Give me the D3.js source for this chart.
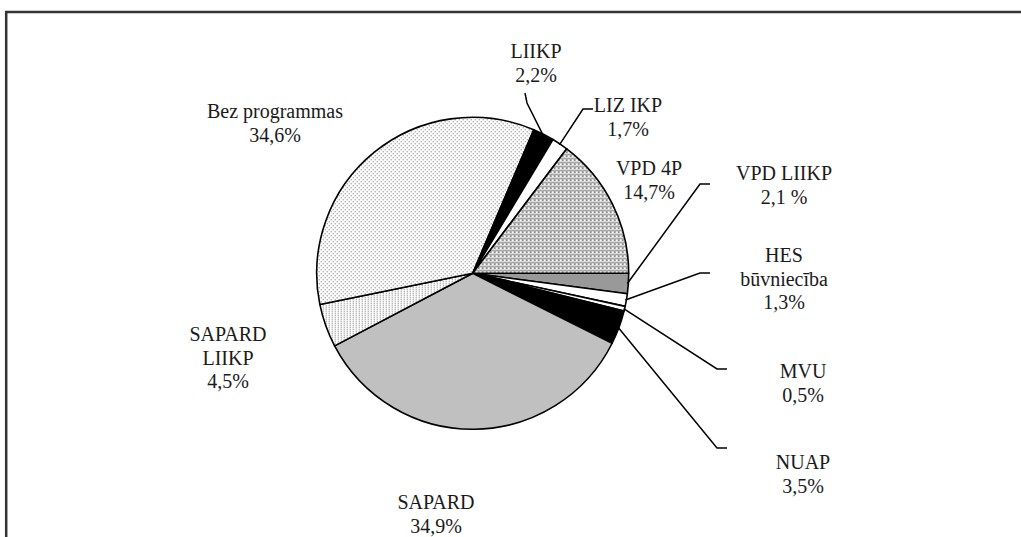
<!DOCTYPE html>
<html>
<head>
<meta charset="utf-8">
<script src="https://cdn.jsdelivr.net/npm/d3@7/dist/d3.min.js"></script>
<style>
  html, body { margin: 0; padding: 0; background: #fff; }
  svg { display: block; }
  text { font-family: "Liberation Serif", "Times New Roman", serif; font-size: 20px; fill: #1a1a1a; }
</style>
</head>
<body>
<svg id="chart" width="1021" height="537"></svg>
<script>
// ---- data (clockwise from 3 o'clock) ----
const categories = ["VPD LIIKP", "HES būvniecība", "MVU", "NUAP", "SAPARD", "SAPARD LIIKP", "Bez programmas", "LIIKP", "LIZ IKP", "VPD 4P"];
const values = [2.1, 1.3, 0.5, 3.5, 34.9, 4.5, 34.6, 2.2, 1.7, 14.7];
const valueLabels = ["2,1 %", "1,3%", "0,5%", "3,5%", "34,9%", "4,5%", "34,6%", "2,2%", "1,7%", "14,7%"];
const nameLines = [["VPD LIIKP"], ["HES", "būvniecība"], ["MVU"], ["NUAP"], ["SAPARD"], ["SAPARD", "LIIKP"], ["Bez programmas"], ["LIIKP"], ["LIZ IKP"], ["VPD 4P"]];

// ---- layout / style ----
const fills = ["#999999", "#ffffff", "#ffffff", "#000000", "#c0c0c0", "url(#pDense)", "url(#pSparse)", "#000000", "#ffffff", "url(#pWave)"];
const labelPos = [
  {x: 784, y: 180}, {x: 784, y: 262}, {x: 803, y: 378}, {x: 803, y: 469},
  {x: 436, y: 509}, {x: 228, y: 341}, {x: 275, y: 118}, {x: 536, y: 58},
  {x: 628, y: 112}, {x: 649, y: 175}
];
const leaderPts = [
  [[710, 184], [700, 184]], [[710, 273], [700, 273]], [[727, 369], [717, 369]], [[727, 448], [717, 448]],
  null, null, null,
  [[525, 93], [527, 103]], [[593, 109], [583, 109]], null
];
const lineH = 23.5;
const cx = 472.7, cy = 273.3, R = 156;

const svg = d3.select("#chart");
const defs = svg.append("defs");

// sparse dot pattern (Bez programmas)
const p1 = defs.append("pattern").attr("id", "pSparse").attr("patternUnits", "userSpaceOnUse").attr("width", 4).attr("height", 4);
p1.append("rect").attr("width", 4).attr("height", 4).attr("fill", "#fff");
p1.append("rect").attr("x", 0).attr("y", 0).attr("width", 1).attr("height", 1).attr("fill", "#666");
p1.append("rect").attr("x", 2).attr("y", 2).attr("width", 1).attr("height", 1).attr("fill", "#666");

// dense dot pattern (SAPARD LIIKP)
const p2 = defs.append("pattern").attr("id", "pDense").attr("patternUnits", "userSpaceOnUse").attr("width", 3).attr("height", 2);
p2.append("rect").attr("width", 3).attr("height", 2).attr("fill", "#fff");
p2.append("rect").attr("x", 0).attr("y", 0).attr("width", 1).attr("height", 1).attr("fill", "#777");

// wave pattern (VPD 4P)
const p3 = defs.append("pattern").attr("id", "pWave").attr("patternUnits", "userSpaceOnUse").attr("width", 4).attr("height", 4);
p3.append("rect").attr("width", 4).attr("height", 4).attr("fill", "#fff");
p3.append("path").attr("d", "M0,0.5 L2,2.5 L4,0.5").attr("fill", "none").attr("stroke", "#222").attr("stroke-width", 1);
p3.append("rect").attr("x", 1).attr("y", 3).attr("width", 2).attr("height", 1).attr("fill", "#888");

// frame
svg.append("path").attr("d", "M6.2,537 L6.2,12 L1021,12").attr("fill", "none").attr("stroke", "#333").attr("stroke-width", 2.5);

const pie = d3.pie().sort(null).value(d => d).startAngle(Math.PI / 2).endAngle(Math.PI / 2 + 2 * Math.PI);
const arcs = pie(values);
const arc = d3.arc().innerRadius(0).outerRadius(R);
const edge = d3.arc().innerRadius(R - 1).outerRadius(R - 1);

const g = svg.append("g").attr("transform", `translate(${cx},${cy})`);
g.selectAll("path.slice").data(arcs).join("path")
  .attr("class", "slice")
  .attr("d", arc)
  .attr("fill", (d, i) => fills[i])
  .attr("stroke", "#000").attr("stroke-width", 1.6).attr("stroke-linejoin", "round");

// leader lines
arcs.forEach((d, i) => {
  if (!leaderPts[i]) return;
  const e = edge.centroid(d);
  const pts = leaderPts[i].concat([[cx + e[0], cy + e[1]]]);
  svg.append("path").attr("d", d3.line()(pts)).attr("fill", "none").attr("stroke", "#000").attr("stroke-width", 1.5);
});

// labels
categories.forEach((c, i) => {
  const lines = nameLines[i].concat([valueLabels[i]]);
  const t = svg.append("text").attr("text-anchor", "middle").attr("x", labelPos[i].x).attr("y", labelPos[i].y);
  lines.forEach((ln, k) => {
    t.append("tspan").attr("x", labelPos[i].x).attr("dy", k === 0 ? 0 : lineH).text(ln);
  });
});
</script>
</body>
</html>
